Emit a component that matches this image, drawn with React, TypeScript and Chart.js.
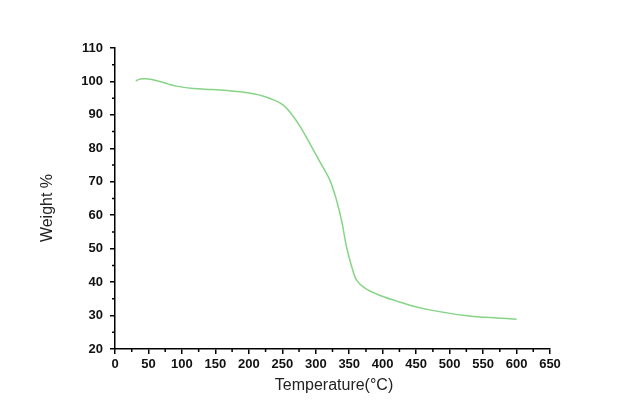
import React, { useRef, useEffect } from 'react';
import { Chart, registerables } from 'chart.js';

Chart.register(...registerables);

// TGA curve
const temperature = [
    31, 38, 45, 55, 67, 80, 92, 117, 145, 167, 187, 207, 222, 237, 251, 264, 276, 291, 306, 321,
    331, 339, 346, 354, 361, 374, 396, 420, 446, 470, 496, 520, 545, 570, 600,
];
const weight = [
    100.2, 100.7, 100.8, 100.6, 100.0, 99.2, 98.6, 97.9, 97.6, 97.3, 96.9, 96.3, 95.6, 94.5, 93.0, 90.2,
    86.7, 81.5, 76.0, 70.5, 64.5, 58.0, 50.5, 44.4, 40.6, 38.1, 36.0, 34.4, 32.8, 31.7, 30.8, 30.1,
    29.6, 29.3, 28.9,
];
const xTicks = [0, 50, 100, 150, 200, 250, 300, 350, 400, 450, 500, 550, 600, 650];
const yTicks = [20, 30, 40, 50, 60, 70, 80, 90, 100, 110];

const xTitle = 'Temperature(°C)';
const yTitle = 'Weight %';

const FONT = '"Liberation Sans", Arial, sans-serif';

// minor ticks half way between the majors, plus the two axis titles
const extrasPlugin = {
    id: 'extras',
    afterDraw(chart: Chart) {
        const ctx = chart.ctx;
        const xs = chart.scales.x;
        const ys = chart.scales.y;
        const area = chart.chartArea;
        ctx.save();
        ctx.strokeStyle = '#000';
        ctx.lineWidth = 1.5;
        ctx.beginPath();
        for (let i = 0; i < xTicks.length - 1; i++) {
            const px = xs.getPixelForValue((xTicks[i] + xTicks[i + 1]) / 2);
            ctx.moveTo(px, area.bottom);
            ctx.lineTo(px, area.bottom + 3);
        }
        for (let i = 0; i < yTicks.length - 1; i++) {
            const py = ys.getPixelForValue((yTicks[i] + yTicks[i + 1]) / 2);
            ctx.moveTo(area.left, py);
            ctx.lineTo(area.left - 3, py);
        }
        ctx.stroke();

        ctx.fillStyle = '#222';
        ctx.font = `16px ${FONT}`;
        ctx.textAlign = 'center';
        ctx.textBaseline = 'middle';
        ctx.fillText(xTitle, 334, 386);
        ctx.translate(48, 208);
        ctx.rotate(-Math.PI / 2);
        ctx.fillText(yTitle, 0, 0);
        ctx.restore();
    },
};

const TgaChart = () => {
    const canvasRef = useRef<HTMLCanvasElement>(null);
    const chartRef = useRef<Chart | null>(null);

    useEffect(() => {
        const ctx = canvasRef.current?.getContext('2d');
        if (!ctx) return;
        if (chartRef.current) chartRef.current.destroy();

        const axisCommon = {
            type: 'linear' as const,
            border: { display: true, color: '#000', width: 1.5 },
            grid: {
                drawOnChartArea: false,
                drawTicks: true,
                tickLength: 5,
                color: '#000',
                lineWidth: 1.5,
            },
        };

        chartRef.current = new Chart(ctx, {
            type: 'line',
            data: {
                datasets: [
                    {
                        data: temperature.map((t, i) => ({ x: t, y: weight[i] })),
                        borderColor: '#86d486',
                        borderWidth: 1.5,
                        pointRadius: 0,
                        tension: 0.35,
                        fill: false,
                    },
                ],
            },
            options: {
                responsive: false,
                animation: false,
                layout: { padding: { top: 48, right: 90, left: 0, bottom: 0 } },
                plugins: { legend: { display: false }, tooltip: { enabled: false } },
                scales: {
                    x: {
                        ...axisCommon,
                        min: 0,
                        max: 650,
                        afterBuildTicks: (scale: any) => {
                            scale.ticks = xTicks.map((v) => ({ value: v }));
                        },
                        afterFit: (scale: any) => {
                            scale.height = 69;
                        },
                        ticks: {
                            color: '#111',
                            padding: 3,
                            maxRotation: 0,
                            autoSkip: false,
                            font: { family: FONT, size: 13, weight: 'bold' },
                        },
                    },
                    y: {
                        ...axisCommon,
                        min: 20,
                        max: 110,
                        afterBuildTicks: (scale: any) => {
                            scale.ticks = yTicks.map((v) => ({ value: v }));
                        },
                        afterFit: (scale: any) => {
                            scale.width = 115;
                        },
                        ticks: {
                            color: '#111',
                            padding: 7,
                            autoSkip: false,
                            font: { family: FONT, size: 13, weight: 'bold' },
                        },
                    },
                },
            },
            plugins: [extrasPlugin],
        });

        return () => {
            if (chartRef.current) {
                chartRef.current.destroy();
                chartRef.current = null;
            }
        };
    }, []);

    return (
        <div style={{ position: 'absolute', left: 0, top: 0, width: 640, height: 418, background: '#fff' }}>
            <canvas ref={canvasRef} width={640} height={418}></canvas>
        </div>
    );
};

export default function App() {
    return <TgaChart />;
}
